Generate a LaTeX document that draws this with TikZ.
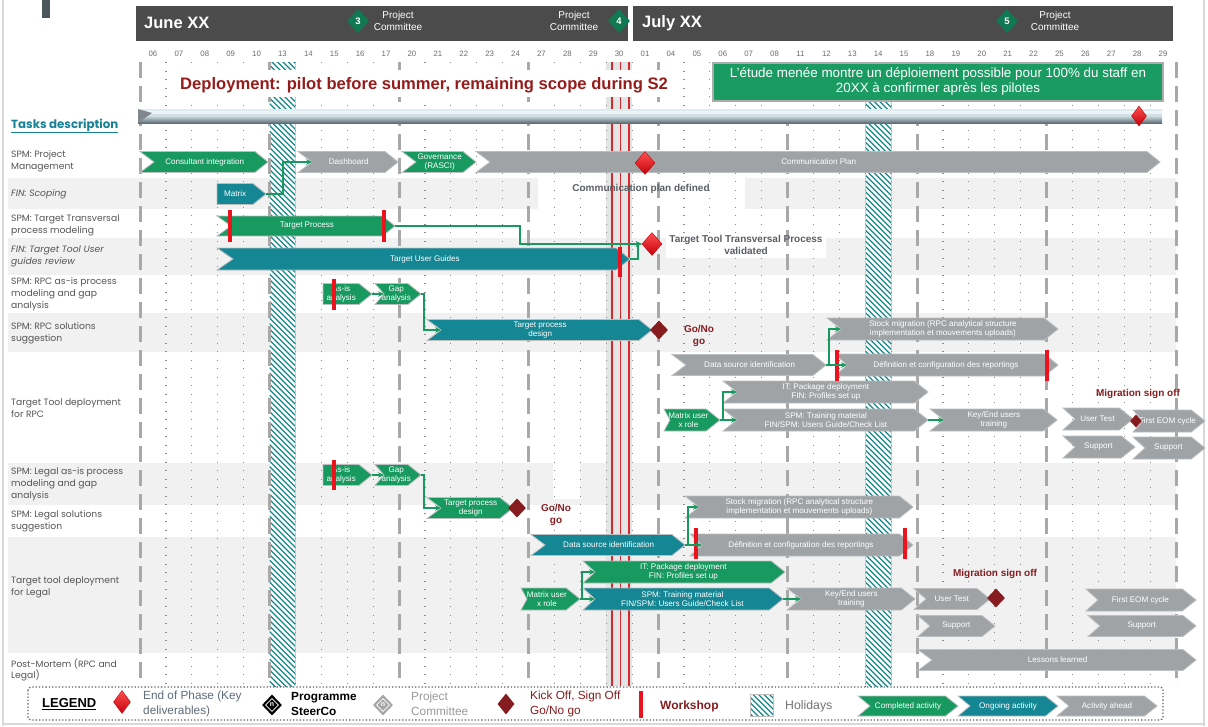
\documentclass[tikz,border=0pt]{standalone}
\usepackage{fontspec}
\setmainfont{Liberation Sans}
\newfontfamily\gothic{Poppins}
\usetikzlibrary{shapes.geometric,arrows.meta}
\definecolor{cgreen}{RGB}{24,153,96}
\definecolor{cteal}{RGB}{21,134,148}
\definecolor{cgray}{RGB}{160,163,166}
\definecolor{barline}{RGB}{188,190,192}
\definecolor{hdr}{RGB}{75,75,75}
\definecolor{hdgreen}{RGB}{16,120,82}
\definecolor{dred}{RGB}{135,28,32}
\definecolor{tred}{RGB}{150,28,28}
\definecolor{wred}{RGB}{235,20,30}
\definecolor{band}{RGB}{241,241,241}
\definecolor{gridc}{RGB}{140,140,140}
\definecolor{thickc}{RGB}{168,168,168}
\definecolor{hatchc}{RGB}{20,135,140}
\definecolor{labc}{RGB}{85,85,85}
\definecolor{tealtxt}{RGB}{24,130,150}
\definecolor{boxgreen}{RGB}{25,155,98}
\definecolor{cylT}{RGB}{222,238,242}
\definecolor{cylM}{RGB}{205,220,224}
\definecolor{cylB}{RGB}{95,110,118}
\definecolor{msg}{RGB}{90,95,100}
\definecolor{slate}{RGB}{74,85,92}
\definecolor{redcol}{RGB}{228,228,228}
\definecolor{redln}{RGB}{215,40,45}
\definecolor{legblue}{RGB}{95,108,122}
\definecolor{epT}{RGB}{255,80,80}
\definecolor{epB}{RGB}{195,0,10}
\definecolor{epD}{RGB}{190,0,10}

% chevron bar: name, colour, x1, x2, y centre, half height, notch depth, text
\newcommand{\chev}[8]{%
  \fill[#2,draw=barline,line width=0.8pt] (#3,#5-#6) -- ({#4-1.25*#6},#5-#6) -- (#4,#5) -- ({#4-1.25*#6},#5+#6) -- (#3,#5+#6) -- ({#3+#7},#5) -- cycle;
  \coordinate (#1-in) at ({#3+#7},#5);
  \coordinate (#1-out) at (#4,#5);
  \node[bartxt] (#1) at ({(#3+#4)/2+#7/2-0.6*#6},#5) {#8};
}
\newcommand{\hatchbox}[4]{%
  \begin{scope}
    \clip (#1,#2) rectangle (#3,#4);
    \fill[white] (#1,#2) rectangle (#3,#4);
    \foreach \t in {-30,-24.5,...,640} \draw[hatchc,line width=1.15pt] (#1,#2+\t) -- ++(30,30);
  \end{scope}
}
\newcommand{\wshop}[3]{\fill[wred] ({#1-2},#2) rectangle ({#1+2},#3);}

\begin{document}
\begin{tikzpicture}[x=1pt,y=-1pt,
  bartxt/.style={text=white,align=center,inner sep=0,font=\fontsize{8.1}{9.4}\selectfont},
  tasklab/.style={anchor=west,align=left,inner sep=0,text=labc,font=\gothic\fontsize{9.2}{11.8}\selectfont},
  daylab/.style={text=gray!85!black,inner sep=0,font=\fontsize{7.8}{8}\selectfont},
  thickgrid/.style={draw=thickc,line width=3pt,dash pattern=on 16pt off 8pt},
  dotgrid/.style={draw=gridc,line width=1.2pt,dash pattern=on 1.2pt off 7.3pt},
  conn/.style={draw=cgreen,line width=1.3pt,-{Stealth[length=6pt,width=5.5pt]}},
  endphase/.style={diamond,inner sep=0,minimum width=20pt,minimum height=23pt,top color=epT,bottom color=epB,draw=epD,line width=0.4pt},
  gonogo/.style={diamond,inner sep=0,minimum width=18pt,minimum height=19pt,fill=dred},
  hdiam/.style={diamond,inner sep=0,minimum width=22pt,minimum height=24pt,fill=hdgreen,text=white,font=\bfseries\fontsize{9.5}{9.5}\selectfont},
  hdtxt/.style={text=white,align=center,inner sep=0,font=\fontsize{10}{12.5}\selectfont},
  note/.style={align=center,inner sep=0,font=\bfseries\fontsize{10}{12.5}\selectfont},
  legtxt/.style={anchor=west,align=left,inner sep=0,font=\fontsize{11.8}{15}\selectfont}
]
\useasboundingbox (0,0) rectangle (1208,726);
\fill[white] (0,0) rectangle (1208,726);

% frame
\draw[gray!30,line width=2pt] (3,0) -- (3,726);
\draw[gray!30,line width=2pt] (1204,0) -- (1204,726);
\draw[gray!30,line width=2pt] (3,724) -- (1204,724);
\fill[slate] (42,0) rectangle (50,18);

% row bands
\foreach \a/\b in {178/209,238/275,313/352,463/505,537/653} \fill[band] (8,\a) rectangle (1176,\b);
\fill[white] (538,178) rectangle (745,209);
\fill[white] (666,234) rectangle (826,258);
\fill[white] (553,463) rectangle (580,499);

% holidays and 30 June column
\hatchbox{269.5}{62}{295.4}{686}
\hatchbox{865.2}{62}{891.1}{686}
\draw[gray!40,line width=1.2pt] (295.4,62) -- (295.4,686) (865.2,62) -- (865.2,686) (891.1,62) -- (891.1,686);
\fill[redcol] (606,62) rectangle (632,686);
\foreach \x in {612,620.5,629} \draw[redln,line width=1.5pt] (\x,62) -- (\x,686);

% grid
\foreach \k in {0,...,40}{%
  \pgfmathsetmacro{\xx}{140+25.9*\k}%
  \pgfmathtruncatemacro{\mm}{mod(\k,5)}%
  \ifnum\mm=0 \draw[thickgrid] (\xx,62) -- (\xx,686);\else \draw[dotgrid] (\xx,62) -- (\xx,686);\fi
}

% header
\fill[hdr] (136,6) rectangle (628,41);
\fill[hdr] (633,6) rectangle (1173,41);
\node[anchor=west,text=white,inner sep=0,font=\bfseries\fontsize{16.5}{16.5}\selectfont] (june) at (144,23) {June XX};
\node[anchor=west,text=white,inner sep=0,font=\bfseries\fontsize{16.5}{16.5}\selectfont] (july) at (642,23) {July XX};
\node[hdtxt] (pc3t) at (398,21) {Project\\Committee};
\node[hdtxt] (pc4t) at (574,21) {Project\\Committee};
\node[hdtxt] (pc5t) at (1055,21) {Project\\Committee};
\node[hdiam] (pc3) at (358,21) {3};
\node[hdiam] (pc4) at (619,21) {4};
\node[hdiam] (pc5) at (1007,21) {5};
\foreach \d [count=\i from 0] in {06,07,08,09,10,13,14,15,16,17,20,21,22,23,24,27,28,29,30,01,04,05,06,07,08,11,12,13,14,15,18,19,20,21,22,25,26,27,28,29}
  \node[daylab] (day\i) at ({140+25.9*(\i+0.5)},54) {\d};

% title and study box
\fill[white] (170,70) rectangle (680,97);
\node[text=tred,inner sep=0,font=\bfseries\fontsize{16.6}{16.6}\selectfont] (title) at (424,85) {Deployment: pilot before summer, remaining scope during S2};
\node[draw=gray!65,line width=2pt,fill=boxgreen,text=white,minimum width=450pt,minimum height=38pt,align=center,inner sep=0,font=\fontsize{13.4}{15}\selectfont] (study) at (938,81.5) {L’étude menée montre un déploiement possible pour 100\% du staff en\\20XX à confirmer après les pilotes};

% timeline cylinder
\shade[top color=cylT,bottom color=cylB,middle color=cylM] (138,109) rectangle (1162,123);
\fill[white,opacity=0.55] (138,111) rectangle (1162,114);
\fill[slate!70] (138,109) -- (152,113) -- (138,123) -- cycle;
\node[endphase,minimum width=15pt,minimum height=20pt] (efin) at (1139,116) {};

% task labels
\node[anchor=west,inner sep=0,text=tealtxt,font=\gothic\bfseries\fontsize{11.8}{13}\selectfont] (tasks) at (11,126) {\underline{Tasks description}};
\node[tasklab] (l1) at (11,161) {SPM: Project\\Management};
\node[tasklab] (l2) at (11,194) {\itshape FIN: Scoping};
\node[tasklab] (l3) at (11,225) {SPM: Target Transversal\\process modeling};
\node[tasklab] (l4) at (11,256) {\itshape FIN: Target Tool  User\\\itshape guides review};
\node[tasklab] (l5) at (11,294) {SPM: RPC as-is process\\modeling and gap\\analysis};
\node[tasklab] (l6) at (11,333) {SPM: RPC solutions\\suggestion};
\node[tasklab] (l7) at (11,408) {Target Tool deployment\\for RPC};
\node[tasklab] (l8) at (11,484) {SPM: Legal as-is process\\modeling and gap\\analysis};
\node[tasklab] (l9) at (11,521) {SPM: Legal solutions\\suggestion};
\node[tasklab] (l10) at (11,587) {Target tool deployment\\for Legal};
\node[tasklab] (l11) at (11,670) {Post-Mortem (RPC and\\Legal)};

% bars RPC / common
\chev{ci}{cgreen}{140}{268}{162}{10.5}{14}{Consultant integration}
\chev{dash}{cgray}{298}{398}{162}{10.5}{14}{Dashboard}
\chev{gov}{cgreen}{402}{476}{162}{10.5}{14}{Governance\\(RASCI)}
\chev{comm}{cgray}{476}{1160}{162}{10.5}{14}{Communication Plan}
\chev{matrix}{cteal}{217}{266}{194}{10.5}{0}{Matrix}
\chev{tp}{cgreen}{217}{395}{226}{10}{14}{Target Process}
\chev{tug}{cteal}{217}{630}{259}{11}{16}{Target User Guides}
\chev{asis1}{cgreen}{323}{372}{294}{10.5}{0}{As-is\\analysis}
\chev{gap1}{cgreen}{375}{421}{294}{10.5}{9}{Gap\\analysis}
\chev{tpd1}{cteal}{427}{652}{330}{10.5}{14}{Target process\\design}
\chev{stock1}{cgray}{827}{1058}{329}{11}{14}{Stock migration (RPC analytical structure\\implementation et mouvements uploads)}
\chev{ds1}{cgray}{672}{826}{365}{10.5}{14}{Data source identification}
\chev{def1}{cgray}{835}{1058}{365}{11}{12}{Définition et configuration des reportings}
\chev{it1}{cgray}{723}{928}{392}{11}{14}{IT: Package deployment\\FIN: Profiles set up}
\chev{mu1}{cgreen}{664}{720}{420}{11}{6}{Matrix user\\x role}
\chev{spm1}{cgray}{723}{928}{420}{11}{14}{SPM: Training material\\FIN/SPM: Users Guide/Check List}
\chev{ke1}{cgray}{930}{1057}{420}{11}{14}{Key/End users\\training}
\chev{ut1}{cgray}{1063}{1133}{419}{11}{12}{User Test}
\chev{eom1}{cgray}{1133}{1205}{421}{11}{10}{First EOM cycle}
\chev{sup1a}{cgray}{1063}{1135}{447}{11}{12}{Support}
\chev{sup1b}{cgray}{1133}{1205}{448}{11}{12}{Support}

% bars Legal
\chev{asis2}{cgreen}{323}{372}{475}{10.5}{0}{As-is\\analysis}
\chev{gap2}{cgreen}{375}{421}{475}{10.5}{9}{Gap\\analysis}
\chev{tpd2}{cgreen}{427}{513}{508}{10.5}{14}{Target process\\design}
\chev{stock2}{cgray}{685}{913}{507}{11}{14}{Stock migration (RPC analytical structure\\implementation et mouvements uploads)}
\chev{ds2}{cteal}{531}{685}{545}{10.5}{14}{Data source identification}
\chev{def2}{cgray}{690}{913}{545}{11}{12}{Définition et configuration des reportings}
\chev{it2}{cgreen}{583}{785}{572}{11}{12}{IT: Package deployment\\FIN: Profiles set up}
\chev{mu2}{cgreen}{521}{580}{599}{11}{6}{Matrix user\\x role}
\chev{spm2}{cteal}{583}{783}{599}{11}{12}{SPM: Training material\\FIN/SPM: Users Guide/Check List}
\chev{ke2}{cgray}{787}{915}{599}{11}{14}{Key/End users\\training}
\chev{ut2}{cgray}{914}{990}{599}{10.5}{12}{User Test}
\chev{sup2a}{cgray}{918}{995}{626}{10.5}{12}{Support}
\chev{eom2}{cgray}{1086}{1196}{600}{11}{12}{First EOM cycle}
\chev{sup2b}{cgray}{1088}{1196}{626}{10.5}{12}{Support}
\chev{ll}{cgray}{918}{1196}{660}{10.5}{14}{Lessons learned}

% workshops
\wshop{230}{210}{242}
\wshop{384}{210}{242}
\wshop{620}{247}{277}
\wshop{334}{279}{310}
\wshop{837}{350}{381}
\wshop{1047}{350}{381}
\wshop{334}{460}{490}
\wshop{696}{528}{559}
\wshop{905}{528}{559}

% milestones
\node[endphase] (e1) at (645,163) {};
\node[endphase] (ttv) at (652,244) {};
\node[gonogo] (go1) at (659,330) {};
\node[gonogo] (go2) at (517,508) {};
\node[gonogo,minimum width=12pt,minimum height=13pt] (go3) at (1136,421) {};
\node[gonogo] (go4) at (996,598) {};

% connectors
\coordinate (j1) at (829,365);
\coordinate (j2) at (723,420);
\coordinate (j3) at (688,545);
\coordinate (j4) at (582,599);
\draw[conn] (matrix-out) -- (283,194) -- (283,162) -- (dash-in);
\draw[conn] (tp-out) -- (520,226) -- (520,244) -- (ttv.west);
\draw[conn] (tug-out) -- (638,259) -- (638,244) -- (ttv.west);
\draw[conn] (asis1-out) -- (gap1-in);
\draw[conn] (gap1-out) -- (424,294) -- (424,330) -- (tpd1-in);
\draw[conn] (ds1-out) -- (j1) |- (stock1-in);
\draw[conn] (j1) -- (def1-in);
\draw[conn] (mu1-out) -- (j2) |- (it1-in);
\draw[conn] (j2) -- (spm1-in);
\draw[conn] (spm1-out) -- (ke1-in);
\draw[conn] (asis2-out) -- (gap2-in);
\draw[conn] (gap2-out) -- (424,475) -- (424,508) -- (tpd2-in);
\draw[conn] (ds2-out) -- (j3) |- (stock2-in);
\draw[conn] (j3) -- (def2-in);
\draw[conn] (mu2-out) -- (j4) |- (it2-in);
\draw[conn] (j4) -- (spm2-in);
\draw[conn] (spm2-out) -- (ke2-in);

% notes
\node[note,text=msg] (cpd) at (641,189) {Communication plan defined};
\node[note,text=msg] (ttvt) at (746,245) {Target Tool Transversal Process\\validated};
\node[note,text=dred] (gn1) at (699,336) {Go/No\\go};
\node[note,text=dred] (gn2) at (556,515) {Go/No\\go};
\node[note,text=dred] (ms1) at (1138,394) {Migration sign off};
\node[note,text=dred] (ms2) at (995,574) {Migration sign off};

% legend
\draw[dotted,line width=1.3pt,gray!75!black,rounded corners=3pt] (28,687) rectangle (1163,720);
\node[anchor=west,inner sep=0,font=\bfseries\fontsize{13}{13}\selectfont] (legend) at (42,704) {\underline{LEGEND}};
\node[endphase,minimum width=17pt,minimum height=23pt] (lgep) at (122,702) {};
\node[legtxt,text=legblue] (lgept) at (143,704) {End of Phase (Key\\deliverables)};
\node[diamond,fill=black,inner sep=0,minimum width=20pt,minimum height=21pt] (lgst) at (272,705) {};
\node[diamond,draw=white,line width=0.6pt,inner sep=0,minimum width=13pt,minimum height=13pt,text=white,font=\bfseries\fontsize{7}{7}\selectfont] (lgstn) at (272,705) {n};
\node[legtxt,font=\bfseries\fontsize{11.8}{15}\selectfont] (lgstt) at (291,704) {Programme\\SteerCo};
\node[diamond,fill=gray!70,inner sep=0,minimum width=20pt,minimum height=21pt] (lgpc) at (383,705) {};
\node[diamond,draw=white,line width=0.6pt,inner sep=0,minimum width=13pt,minimum height=13pt,text=white,font=\bfseries\fontsize{7}{7}\selectfont] (lgpcn) at (383,705) {n};
\node[legtxt,text=gray!80] (lgpct) at (411,704) {Project\\Committee};
\node[gonogo,minimum width=17pt,minimum height=21pt] (lggo) at (506,704) {};
\node[legtxt,text=dred] (lggot) at (530,704) {Kick Off, Sign Off\\Go/No go};
\wshop{641}{691}{718}
\node[legtxt,text=dred,font=\bfseries\fontsize{12}{12}\selectfont] (lgws) at (660,706) {Workshop};
\hatchbox{750}{694}{773}{716}
\draw[gray!50,line width=1pt] (750,694) rectangle (773,716);
\node[legtxt,text=gray!90!black,font=\fontsize{12.3}{12.3}\selectfont] (lghol) at (785,706) {Holidays};
\chev{lgc}{cgreen}{858}{958}{706}{10}{12}{Completed activity}
\chev{lgo}{cteal}{958}{1058}{706}{10}{12}{Ongoing activity}
\chev{lga}{cgray}{1057}{1157}{706}{10}{12}{Activity ahead}
\end{tikzpicture}
\end{document}
